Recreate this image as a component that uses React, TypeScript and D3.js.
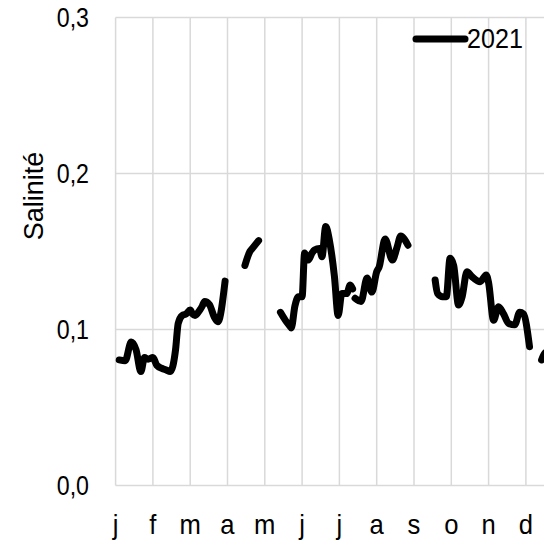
import React from "react";
import * as d3 from "d3";

const monthLabels = ["j", "f", "m", "a", "m", "j", "j", "a", "s", "o", "n", "d"];
const yTicks = [0, 0.1, 0.2, 0.3];
const seriesName = "2021";

const seg1Dates = ["2021-01-04","2021-01-09","2021-01-14","2021-01-18","2021-01-22","2021-01-25","2021-01-28","2021-02-01","2021-02-04","2021-02-08","2021-02-11","2021-02-14","2021-02-18","2021-02-20","2021-02-23","2021-02-26","2021-03-01","2021-03-03","2021-03-05","2021-03-09","2021-03-11","2021-03-13","2021-03-17","2021-03-21","2021-03-24","2021-03-30"];
const seg1Values = [0.0805,0.080,0.092,0.087,0.073,0.082,0.081,0.082,0.077,0.075,0.074,0.073,0.087,0.104,0.109,0.110,0.1125,0.110,0.109,0.1125,0.115,0.118,0.116,0.108,0.105,0.131];

const seg2Dates = ["2021-04-15","2021-04-19","2021-04-21","2021-04-26"];
const seg2Values = [0.141,0.150,0.152,0.157];

const seg3Dates = ["2021-05-14","2021-05-18","2021-05-22","2021-05-23","2021-05-26","2021-05-29","2021-06-01","2021-06-03","2021-06-06","2021-06-09","2021-06-11","2021-06-15","2021-06-17","2021-06-20","2021-06-23","2021-06-27","2021-06-30","2021-07-03","2021-07-07","2021-07-10","2021-07-12"];
const seg3Values = [0.111,0.106,0.102,0.101,0.115,0.121,0.121,0.149,0.1445,0.149,0.151,0.152,0.1467,0.166,0.157,0.134,0.109,0.123,0.123,0.1285,0.126];

const seg4Dates = ["2021-07-14","2021-07-19","2021-07-24","2021-07-28","2021-08-01","2021-08-03","2021-08-08","2021-08-14","2021-08-18","2021-08-21","2021-08-24","2021-08-27"];
const seg4Values = [0.120,0.118,0.133,0.124,0.137,0.140,0.158,0.1445,0.153,0.160,0.158,0.154];

const seg5Dates = ["2021-09-18","2021-09-20","2021-09-24","2021-09-27","2021-09-30","2021-10-03","2021-10-07","2021-10-10","2021-10-14","2021-10-18","2021-10-25","2021-10-30","2021-11-01","2021-11-05","2021-11-09","2021-11-13","2021-11-17","2021-11-22","2021-11-26","2021-11-29","2021-12-04"];
const seg5Values = [0.1317,0.123,0.121,0.121,0.1456,0.141,0.1157,0.121,0.137,0.134,0.1306,0.135,0.130,0.106,0.1146,0.110,0.104,0.103,0.111,0.110,0.089];

const seg6Dates = ["2021-12-14","2021-12-16","2021-12-19"];
const seg6Values = [0.0805,0.084,0.086];

const segments = [
  [seg1Dates, seg1Values],
  [seg2Dates, seg2Values],
  [seg3Dates, seg3Values],
  [seg4Dates, seg4Values],
  [seg5Dates, seg5Values],
  [seg6Dates, seg6Values],
] as [string[], number[]][];

function monthPos(s: string): number {
  const [y, m, d] = s.split("-").map(Number);
  const dim = new Date(y, m, 0).getDate();
  return (m - 1) + (d - 1) / dim;
}

const FONT = "'Liberation Sans', Arial, sans-serif";
const FS = 27;

function T(props: { x: number; y: number; anchor?: string; dy?: string; rotate?: number; sx?: number; children: React.ReactNode }) {
  const { x, y, anchor = "start", dy, rotate = 0, sx = 0.92, children } = props;
  return (
    <text
      transform={`translate(${x},${y}) rotate(${rotate}) scale(${sx},1)`}
      x={0}
      y={0}
      dy={dy}
      textAnchor={anchor}
      fontFamily={FONT}
      fontSize={FS}
      fill="#000"
    >
      {children}
    </text>
  );
}

export default function App() {
  const W = 544, H = 543;
  const left = 115.6, top = 17.5, bottom = 485.5;
  const monthW = 37.3;
  const x = d3.scaleLinear().domain([0, 12]).range([left, left + 12 * monthW]);
  const y = d3.scaleLinear().domain([0, 0.3]).range([bottom, top]);
  const line = d3.line<[number, number]>().x(d => x(d[0])).y(d => y(d[1])).curve(d3.curveMonotoneX);
  const fmt = (v: number) => d3.format(".1f")(v).replace(".", ",");
  const grid = "#d9d9d9";

  return (
    <svg width={W} height={H} style={{ position: "absolute", left: 0, top: 0 }}>
      <rect x={0} y={0} width={W} height={H} fill="#fff" />
      {d3.range(0, 13).map(i => (
        <line key={"v" + i} x1={x(i)} x2={x(i)} y1={top} y2={bottom} stroke={grid} strokeWidth={1.5} />
      ))}
      {yTicks.map(t => (
        <line key={"h" + t} x1={left} x2={x(12)} y1={y(t)} y2={y(t)} stroke={grid} strokeWidth={1.5} />
      ))}
      {yTicks.map(t => (
        <T key={"t" + t} x={89} y={y(t)} dy="0.35em" anchor="end" sx={0.86}>{fmt(t)}</T>
      ))}
      {monthLabels.map((m, i) => (
        <T key={"m" + i} x={x(i)} y={534} anchor="middle" sx={0.95}>{m}</T>
      ))}
      <T x={43} y={196} rotate={-90} anchor="middle" sx={1}>Salinité</T>
      {segments.map(([ds, vs], k) => (
        <path key={"s" + k} d={line(ds.map((d, i) => [monthPos(d), vs[i]] as [number, number])) || ""} fill="none" stroke="#000" strokeWidth={7} strokeLinejoin="round" strokeLinecap="round" />
      ))}
      <line x1={416} x2={465} y1={39} y2={39} stroke="#000" strokeWidth={7} strokeLinecap="round" />
      <T x={467} y={39} dy="0.35em" sx={0.93}>{seriesName}</T>
    </svg>
  );
}
